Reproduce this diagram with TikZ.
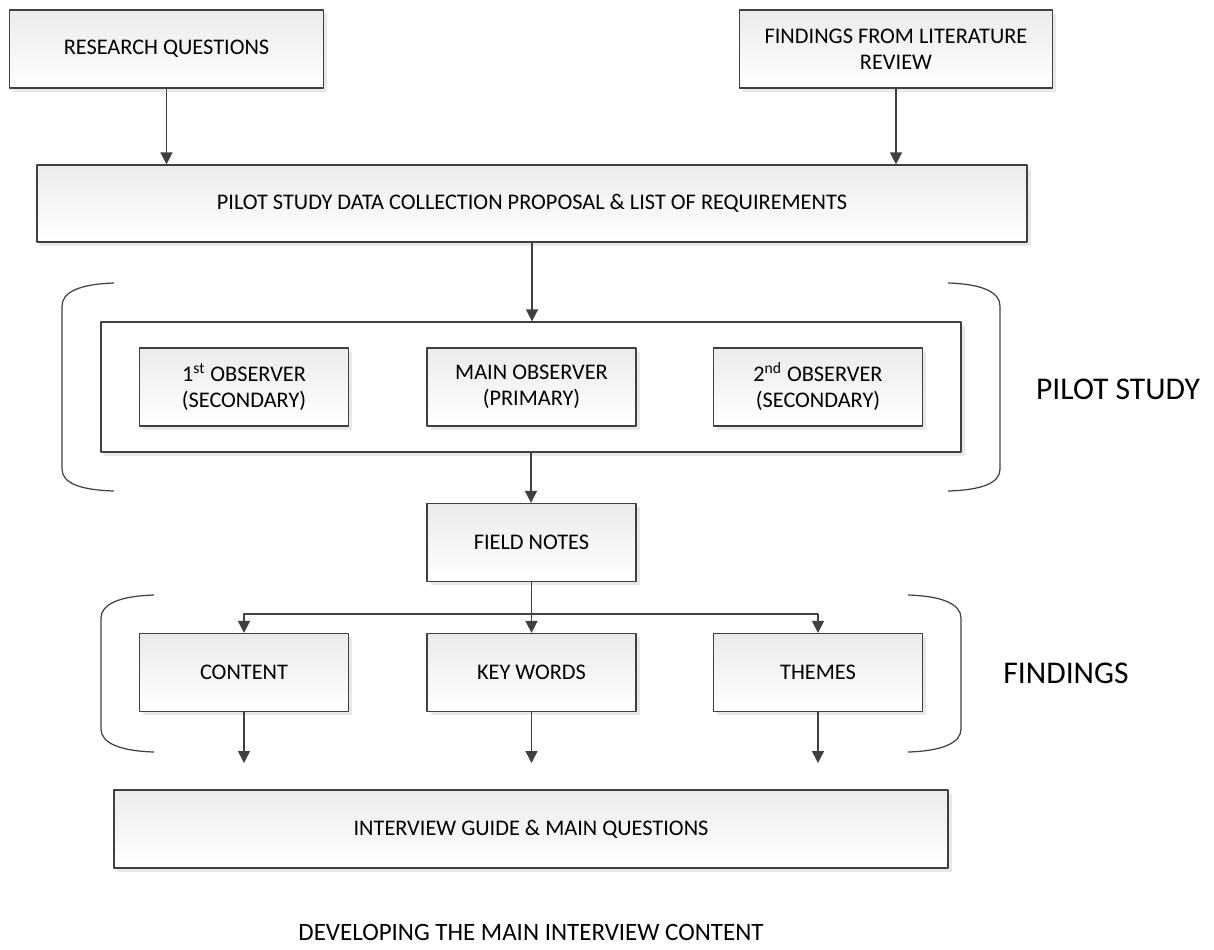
\documentclass[tikz,border=0pt]{standalone}
\usepackage{fontspec}
\setmainfont{Carlito}
\usetikzlibrary{arrows.meta,shadows}

\definecolor{linegray}{HTML}{404040}
\definecolor{boxtop}{HTML}{EBEBEB}

\begin{document}
\begin{tikzpicture}[x=0.2mm, y=-0.2mm, line join=round, font=\fontsize{12.7}{15}\selectfont,
    box/.style={draw=linegray, line width=0.7pt, top color=boxtop, bottom color=white, align=center, inner sep=0pt,
        drop shadow={shadow xshift=0.7mm, shadow yshift=-0.7mm, opacity=0.18, fill=gray}},
    frame/.style={draw=linegray, line width=0.7pt, fill=white, inner sep=0pt,
        drop shadow={shadow xshift=0.7mm, shadow yshift=-0.7mm, opacity=0.18, fill=gray}},
    small/.style={box, minimum width=41.8mm, minimum height=15.6mm},
    wide/.style={box, minimum width=62.7mm, minimum height=15.6mm},
    arr/.style={draw=linegray, line width=0.85pt, -{Triangle[width=2.4mm, length=2.4mm]}},
    brace/.style={draw=linegray, line width=0.7pt},
    side/.style={font=\fontsize{18}{20}\selectfont}]
    \useasboundingbox (0,0) rectangle (1214,949);

    % inputs
    \node[wide] (rq) at (166.5,49) {RESEARCH QUESTIONS};
    \node[wide] (flr) at (896,49) {FINDINGS FROM LITERATURE\\REVIEW};
    \node[box, minimum width=198mm, minimum height=15.4mm] (proposal) at (532,203.5) {PILOT STUDY DATA COLLECTION PROPOSAL \& LIST OF REQUIREMENTS};

    % pilot study
    \node[frame, minimum width=172mm, minimum height=26mm] (study) at (531,387) {};
    \node[small] (obs1) at (244,387) {1\textsuperscript{st} OBSERVER\\(SECONDARY)};
    \node[small] (obsmain) at (531.5,387) {MAIN OBSERVER\\(PRIMARY)};
    \node[small] (obs2) at (818,387) {2\textsuperscript{nd} OBSERVER\\(SECONDARY)};
    \node[side] (pilotlabel) at (1118,389) {PILOT STUDY};

    \node[small] (notes) at (531.5,542.5) {FIELD NOTES};

    % findings
    \node[small] (content) at (244,672.5) {CONTENT};
    \node[small] (keywords) at (531.5,672.5) {KEY WORDS};
    \node[small] (themes) at (818,672.5) {THEMES};
    \node[side] (findlabel) at (1066,673) {FINDINGS};

    \node[box, minimum width=166.8mm, minimum height=15.6mm] (guide) at (531,829) {INTERVIEW GUIDE \& MAIN QUESTIONS};
    \node[font=\fontsize{14.2}{16}\selectfont] (caption) at (531,932) {DEVELOPING THE MAIN INTERVIEW CONTENT};

    % brackets
    \draw[brace] (114,283) .. controls (80,284) and (62,292) .. (62,306) -- (62,469) .. controls (62,483) and (80,490) .. (114,491);
    \draw[brace] (948,283) .. controls (982,284) and (1000,292) .. (1000,306) -- (1000,469) .. controls (1000,483) and (982,490) .. (948,491);
    \draw[brace] (154,595) .. controls (120,596) and (101,604) .. (101,618) -- (101,729) .. controls (101,743) and (120,751) .. (154,752);
    \draw[brace] (908,595) .. controls (942,596) and (961,604) .. (961,618) -- (961,729) .. controls (961,743) and (942,751) .. (908,752);

    % connectors
    \draw[arr] (rq.south) -- (rq.south |- proposal.north);
    \draw[arr] (flr.south) -- (flr.south |- proposal.north);
    \draw[arr] (proposal.south) -- (proposal.south |- study.north);
    \draw[arr] (study.south) -- (study.south |- notes.north);
    \coordinate (split) at (531.5,614);
    \draw[draw=linegray, line width=0.85pt] (notes.south) -- (split);
    \draw[arr] (split) -| (content.north);
    \draw[arr] (split) -- (keywords.north);
    \draw[arr] (split) -| (themes.north);
    \coordinate (drop) at (0,763);
    \draw[arr] (content.south) -- (content.south |- drop);
    \draw[arr] (keywords.south) -- (keywords.south |- drop);
    \draw[arr] (themes.south) -- (themes.south |- drop);
\end{tikzpicture}
\end{document}
